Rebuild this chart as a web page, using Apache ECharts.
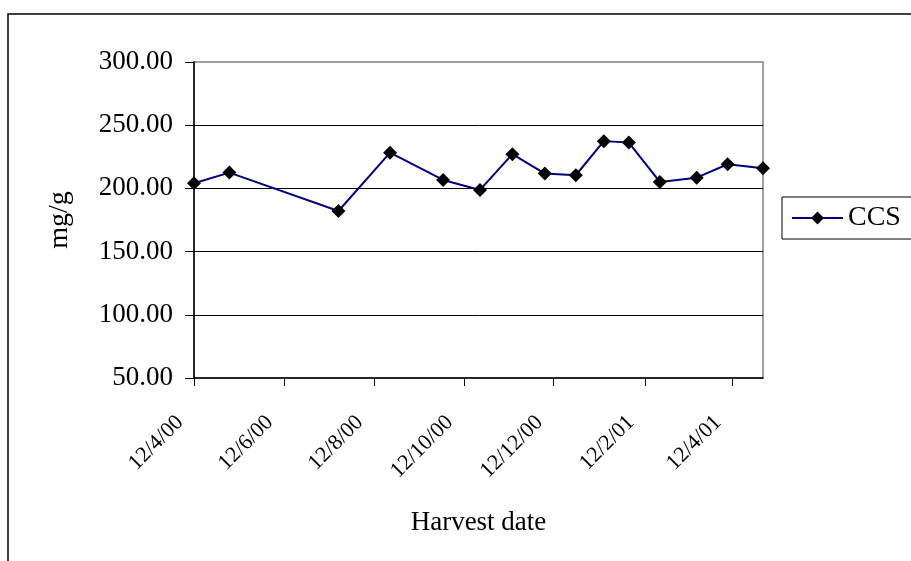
<!DOCTYPE html>
<html>
<head>
<meta charset="utf-8">
<title>CCS by harvest date</title>
<script src="https://cdn.jsdelivr.net/npm/echarts@6/dist/echarts.min.js"></script>
<style>
  html, body { margin: 0; padding: 0; background: #fff; }
  #chart { width: 911px; height: 561px; }
</style>
</head>
<body>
<div id="chart"></div>
<script>
// Harvest dates (yyyy-mm-dd) and CCS content in mg/g
const harvestDates = [
  '2000-04-12', '2000-05-06', '2000-07-19', '2000-08-23', '2000-09-28',
  '2000-10-23', '2000-11-14', '2000-12-06', '2000-12-27', '2001-01-15',
  '2001-02-01', '2001-02-22', '2001-03-19', '2001-04-09', '2001-05-03'
];
const ccsValues = [
  204.1, 212.5, 182.1, 228.3, 206.7,
  198.8, 227.1, 211.7, 210.4, 237.4,
  236.3, 205.1, 208.5, 219.1, 216.0
];

// Date-axis ticks, every second month on the 12th (d/m/yy labels)
const tickDates = ['2000-04-12', '2000-06-12', '2000-08-12', '2000-10-12', '2000-12-12', '2001-02-12', '2001-04-12'];
const tickLabels = ['12/4/00', '12/6/00', '12/8/00', '12/10/00', '12/12/00', '12/2/01', '12/4/01'];

const yMin = 50, yMax = 300, yStep = 50;

// dates become day numbers so the x axis can be a plain linear scale
const DAY = 86400000;
function toDay(s) {
  const p = s.split('-').map(Number);
  return Math.round(Date.UTC(p[0], p[1] - 1, p[2]) / DAY);
}

const tickDays = tickDates.map(toDay);
const labelByDay = {};
tickDays.forEach((t, i) => { labelByDay[t] = tickLabels[i]; });

const seriesData = harvestDates.map((d, i) => [toDay(d), ccsValues[i]]);

const serif = "'Liberation Serif', 'Times New Roman', serif";

const chart = echarts.init(document.getElementById('chart'), null, { renderer: 'canvas' });

chart.setOption({
  backgroundColor: '#ffffff',
  animation: false,
  graphic: [
    {
      // outer chart frame (open towards the right and bottom edges)
      type: 'rect',
      shape: { x: 8, y: 14, width: 1000, height: 1000 },
      style: { fill: 'none', stroke: '#000', lineWidth: 1.5 },
      z: -1
    }
  ],
  grid: {
    left: 194, top: 62, width: 569, height: 316,
    show: true,
    borderColor: '#808080',
    borderWidth: 1.5,
    backgroundColor: '#ffffff'
  },
  legend: {
    left: 782, top: 197,
    orient: 'vertical',
    data: ['CCS'],
    itemWidth: 51, itemHeight: 16,
    padding: [7, 60, 7, 9],
    borderColor: '#000',
    borderWidth: 1,
    textStyle: { fontFamily: serif, fontSize: 28, color: '#000' }
  },
  xAxis: {
    type: 'value',
    min: tickDays[0],
    max: toDay(harvestDates[harvestDates.length - 1]),
    name: 'Harvest date',
    nameLocation: 'middle',
    nameGap: 131,
    nameTextStyle: { fontFamily: serif, fontSize: 27, color: '#000' },
    axisLine: { show: true, lineStyle: { color: '#000', width: 1.5 } },
    axisTick: { show: true, length: 8, lineStyle: { color: '#000', width: 1 }, customValues: tickDays },
    axisLabel: {
      customValues: tickDays,
      rotate: 45,
      margin: 27,
      padding: [0, 20, 0, 0],
      fontFamily: serif,
      fontSize: 22,
      color: '#000',
      formatter: (v) => labelByDay[v] || ''
    },
    splitLine: { show: false }
  },
  yAxis: {
    type: 'value',
    min: yMin, max: yMax, interval: yStep,
    name: 'mg/g',
    nameLocation: 'middle',
    nameRotate: 90,
    nameGap: 120,
    nameTextStyle: { fontFamily: serif, fontSize: 28, color: '#000' },
    axisLine: { show: true, lineStyle: { color: '#000', width: 1.5 } },
    axisTick: { show: true, length: 9, lineStyle: { color: '#000', width: 1 } },
    axisLabel: {
      margin: 21,
      fontFamily: serif,
      fontSize: 27,
      color: '#000',
      formatter: (v) => v.toFixed(2)
    },
    splitLine: { show: true, showMinLine: false, showMaxLine: false, lineStyle: { color: '#000', width: 1 } }
  },
  series: [
    {
      name: 'CCS',
      type: 'line',
      data: seriesData,
      symbol: 'diamond',
      symbolSize: 14,
      itemStyle: { color: '#000' },
      lineStyle: { color: '#000080', width: 2 }
    }
  ]
});
</script>
</body>
</html>
